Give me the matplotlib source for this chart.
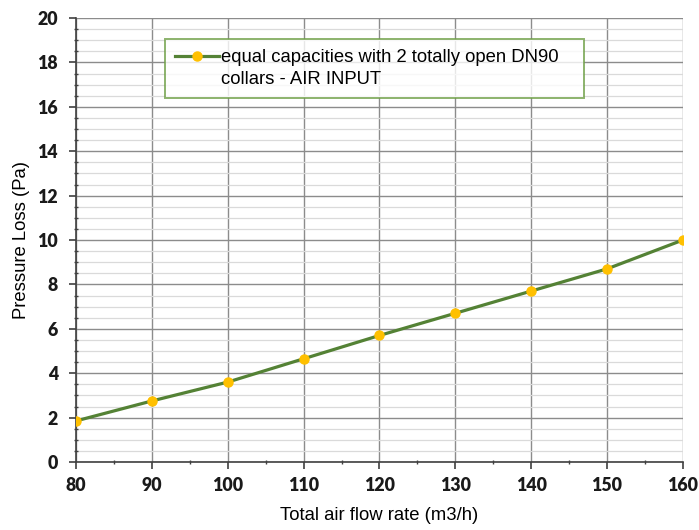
"""Pressure loss vs total air flow rate, DN90 collars."""

import matplotlib

matplotlib.use("Agg")
from matplotlib import pyplot as plt
from matplotlib.lines import Line2D
from matplotlib.ticker import MultipleLocator

flow_rate = [80, 90, 100, 110, 120, 130, 140, 150, 160]
pressure_loss = [1.85, 2.75, 3.6, 4.65, 5.7, 6.7, 7.7, 8.7, 10.0]
label_lines = ["equal capacities with 2 totally open DN90", "collars - AIR INPUT"]

LINE_GREEN = "#548235"
MARKER_GOLD = "#FFC000"

fig = plt.figure(figsize=(6.99, 5.30), dpi=100)
ax = fig.add_axes([0.1087, 0.1283, 0.977 - 0.1087, 0.966 - 0.1283])

ax.plot(flow_rate, pressure_loss, color=LINE_GREEN, lw=2.3,
        marker="o", ms=6.5, mfc=MARKER_GOLD, mec=MARKER_GOLD, zorder=3,
        solid_capstyle="round")

ax.set_xlim(80, 160)
ax.set_ylim(0, 20)
ax.xaxis.set_major_locator(MultipleLocator(10))
ax.xaxis.set_minor_locator(MultipleLocator(5))
ax.yaxis.set_major_locator(MultipleLocator(2))
ax.yaxis.set_minor_locator(MultipleLocator(0.5))

# excel style gridlines
ax.grid(which="major", color="#8c8c8c", lw=1.0)
ax.grid(which="minor", axis="y", color="#dadada", lw=0.9)
ax.set_axisbelow(True)

for side in ["top", "right"]:
    ax.spines[side].set_visible(False)
for side in ["left", "bottom"]:
    ax.spines[side].set_color("#404040")
    ax.spines[side].set_linewidth(1.2)

ax.tick_params(which="major", length=5, width=1.2, color="#404040", direction="out")
ax.tick_params(which="minor", length=3, width=1.0, color="#404040", direction="inout")
ax.tick_params(axis="x", labelsize=12.8, pad=6)
ax.tick_params(axis="y", labelsize=12.8, pad=8)
for lbl in ax.get_xticklabels() + ax.get_yticklabels():
    lbl.set_fontfamily("Lato")
    lbl.set_fontweight("heavy")
    lbl.set_color("#1a1a1a")

ax.set_xlabel("Total air flow rate (m3/h)", fontfamily="Liberation Sans",
              fontsize=13.3, labelpad=9)
ax.set_ylabel("Pressure Loss (Pa)", fontfamily="Liberation Sans",
              fontsize=13.3, labelpad=5)

# legend: handle on the first line only, second line of text underneath
handles = [
    Line2D([], [], color=LINE_GREEN, lw=2.3, marker="o", ms=6.5,
           mfc=MARKER_GOLD, mec=MARKER_GOLD),
    Line2D([], [], linestyle="none"),
]
leg = ax.legend(handles, [label_lines[0] + "   ", label_lines[1]],
                loc="upper left", bbox_to_anchor=(0.1466, 0.953),
                frameon=True, fancybox=False,
                prop={"family": "Liberation Sans", "size": 13.3},
                handlelength=2.35, handletextpad=0.15, labelspacing=0.25,
                borderpad=0.55, borderaxespad=0)
leg.get_frame().set_edgecolor("#70a048")
leg.get_frame().set_linewidth(1.4)

fig.savefig("out.png", dpi=100)
